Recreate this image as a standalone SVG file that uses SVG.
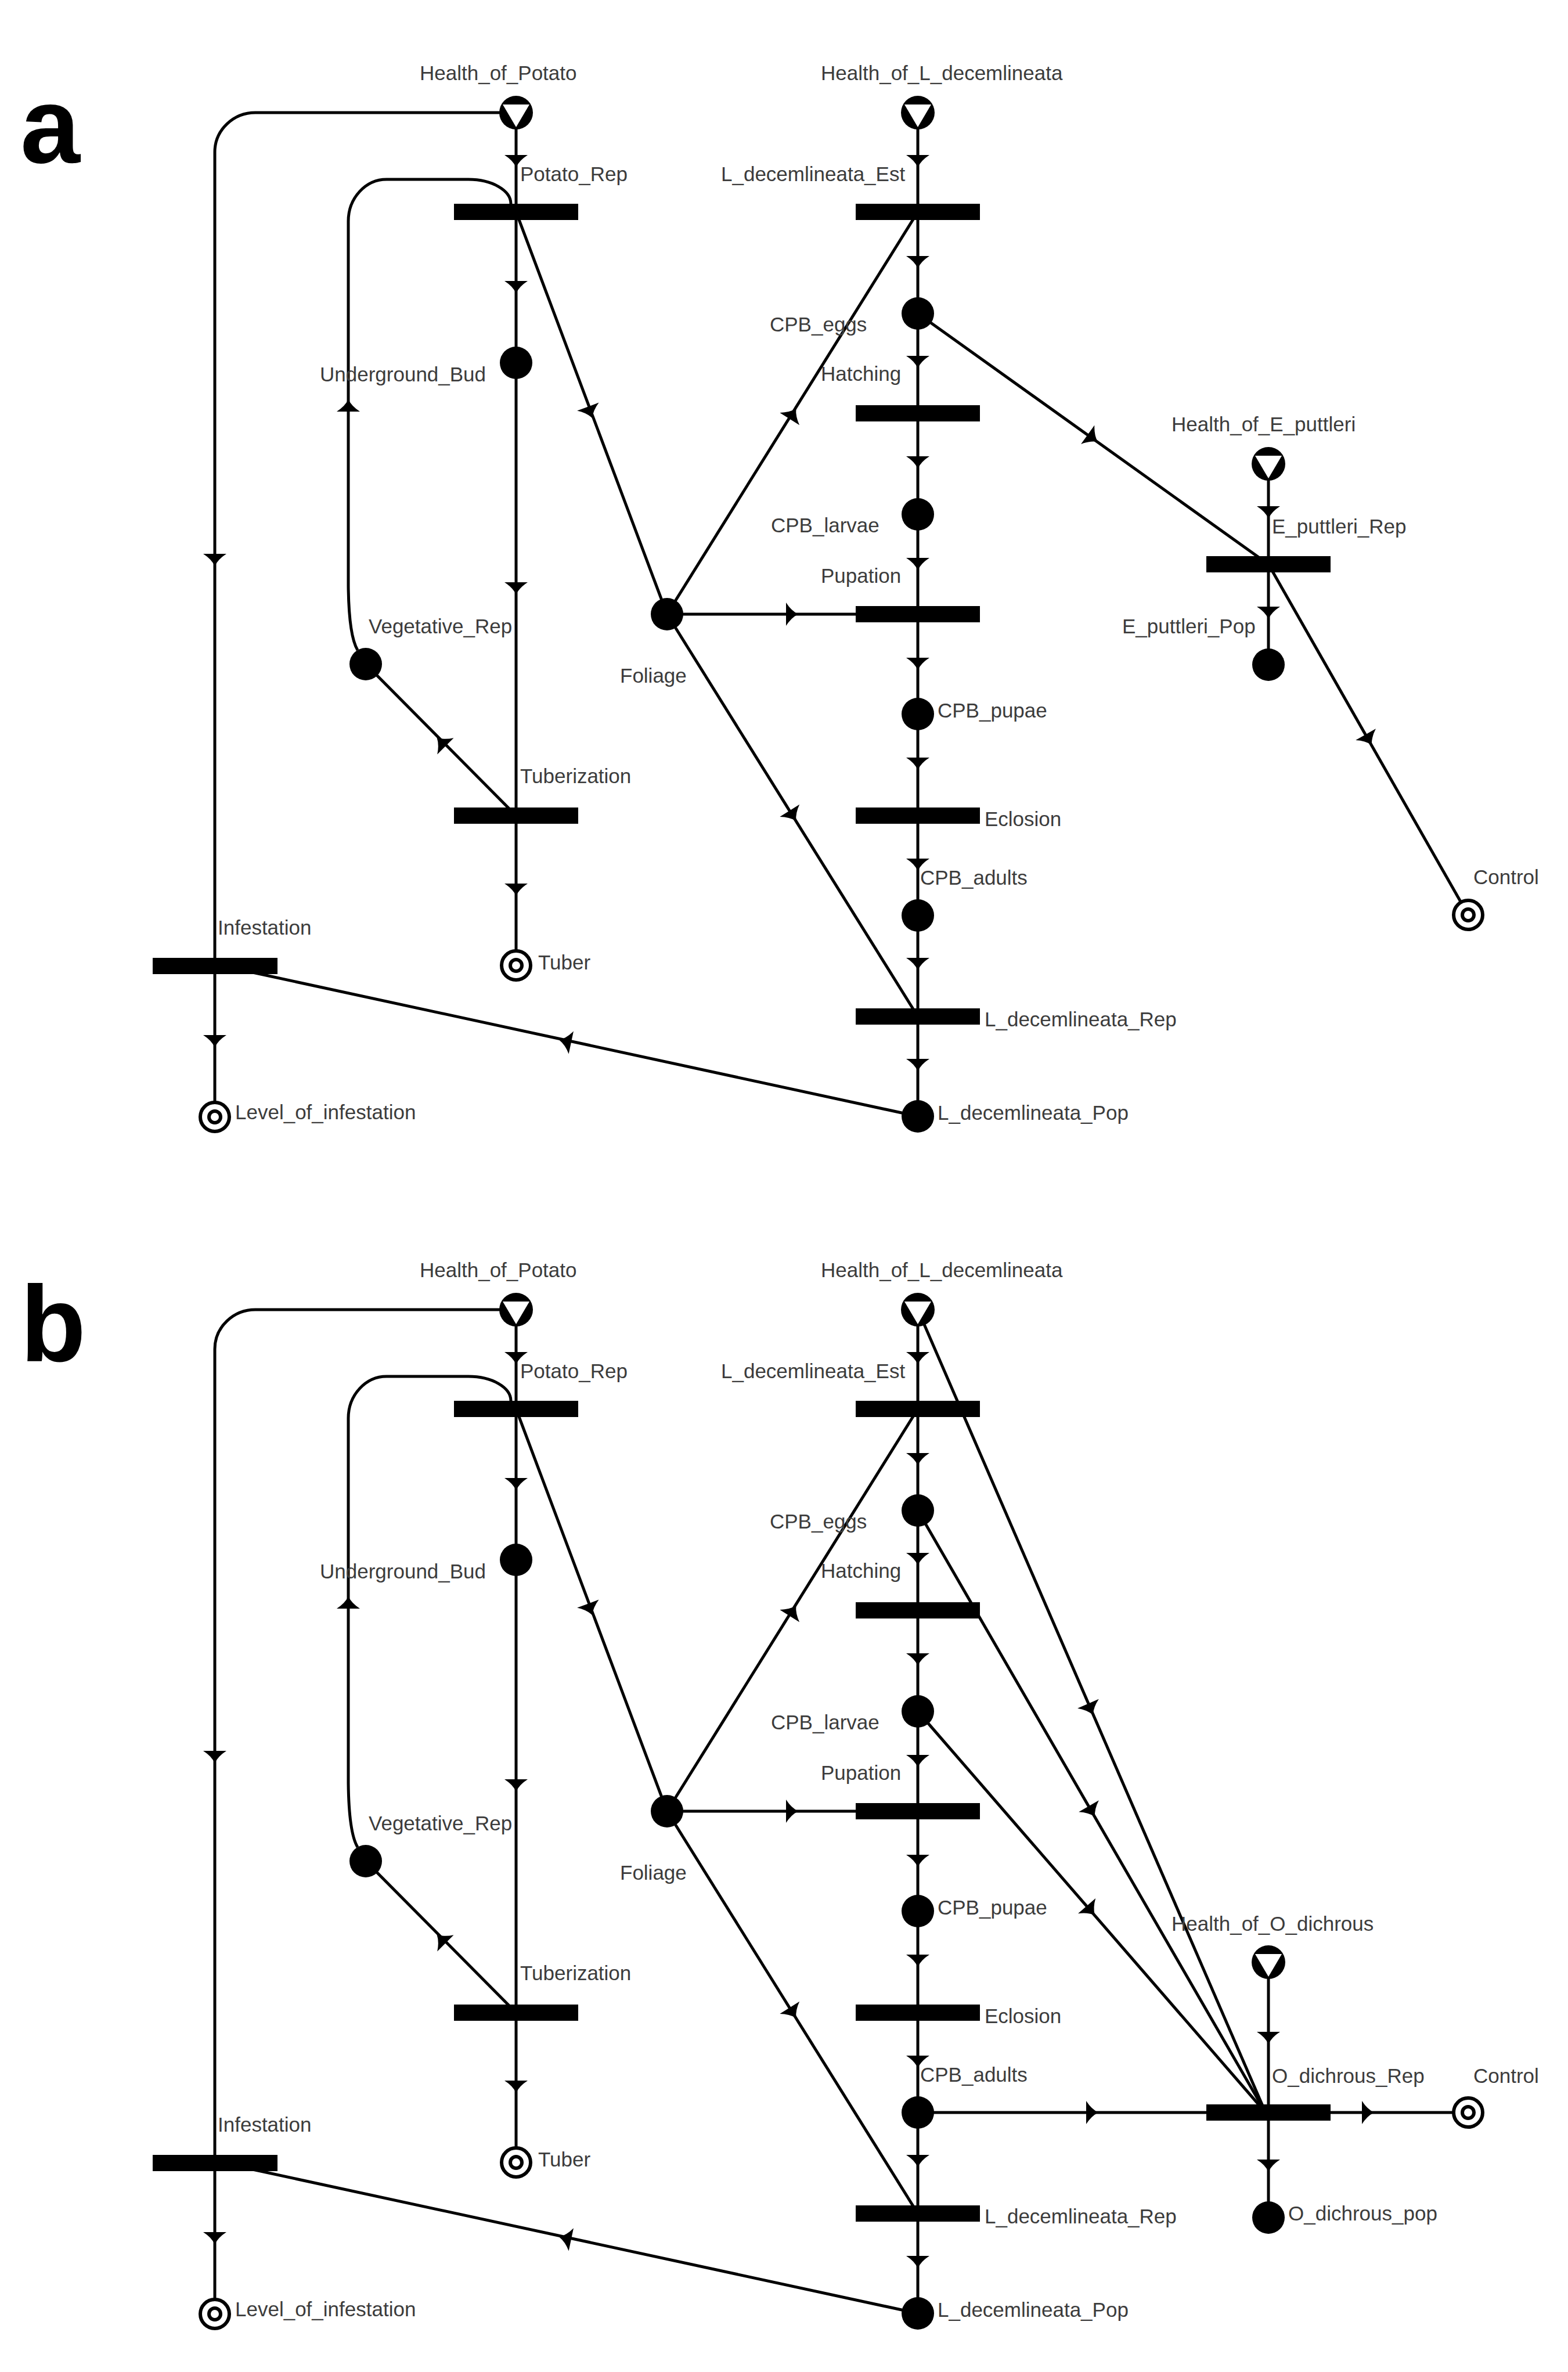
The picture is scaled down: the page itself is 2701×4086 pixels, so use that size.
<svg xmlns="http://www.w3.org/2000/svg" width="2701" height="4086" viewBox="0 0 2701 4086">
<style>
.ln{stroke:#000;stroke-width:5;fill:none}
.pl{fill:#000}
.tr{fill:#000}
.lb{font-family:"Liberation Sans",Arial,sans-serif;font-size:35px;fill:#3c3c3c}
.big{font-family:"Liberation Sans",Arial,sans-serif;font-size:185px;font-weight:bold;fill:#000}
</style>
<defs>
<path id="ah" d="M12,0 Q0,-6 -9,-20 L-9,20 Q0,6 12,0 Z" fill="#000"/>
<g id="src"><circle r="29" fill="#000"/><path d="M-23,-14 L23,-14 L0,25 Z" fill="#fff"/></g>
<g id="sink"><circle r="25" fill="#fff" stroke="#000" stroke-width="6"/><circle r="10" fill="#fff" stroke="#000" stroke-width="6"/></g>
</defs>
<rect width="2701" height="4086" fill="#fff"/>

<!-- ================= PANEL A ================= -->
<g id="panel-a">
<text class="big" x="35" y="280">a</text>
<g id="a-connectors">
<path class="ln" d="M889 194 V365"/>
<path class="ln" d="M889 194 H441 A70 68 0 0 0 370 262 V1664"/>
<path class="ln" d="M889 365 V625"/>
<path class="ln" d="M889 365 L1149 1058"/>
<path class="ln" d="M616 1120 Q601 1095 600 1010 V381 A66 72 0 0 1 666 309 H807 A73 42 0 0 1 880 351"/>
<path class="ln" d="M889 625 V1405"/>
<path class="ln" d="M889 1405 L630 1144"/>
<path class="ln" d="M889 1405 V1663"/>
<path class="ln" d="M1149 1058 L1581 365"/>
<path class="ln" d="M1149 1058 H1581"/>
<path class="ln" d="M1149 1058 L1581 1751"/>
<path class="ln" d="M1581 194 V1923"/>
<path class="ln" d="M1581 1923 L421 1672"/>
<path class="ln" d="M370 1664 V1924"/>
<path class="ln" d="M1581 540 L2185 972"/>
<path class="ln" d="M2185 799 V1145"/>
<path class="ln" d="M2185 972 L2529 1576"/>
<use href="#ah" transform="translate(889 276) rotate(90)"/>
<use href="#ah" transform="translate(370 963) rotate(90)"/>
<use href="#ah" transform="translate(889 493) rotate(90)"/>
<use href="#ah" transform="translate(1016 709) rotate(69.4)"/>
<use href="#ah" transform="translate(600 700) rotate(-90)"/>
<use href="#ah" transform="translate(889 1012) rotate(90)"/>
<use href="#ah" transform="translate(761 1279) rotate(-135)"/>
<use href="#ah" transform="translate(889 1531) rotate(90)"/>
<use href="#ah" transform="translate(1365 714) rotate(-57.7)"/>
<use href="#ah" transform="translate(1363 1058) rotate(0)"/>
<use href="#ah" transform="translate(1365 1404) rotate(58)"/>
<use href="#ah" transform="translate(1581 276) rotate(90)"/>
<use href="#ah" transform="translate(1581 450) rotate(90)"/>
<use href="#ah" transform="translate(1581 622) rotate(90)"/>
<use href="#ah" transform="translate(1581 795) rotate(90)"/>
<use href="#ah" transform="translate(1581 970) rotate(90)"/>
<use href="#ah" transform="translate(1581 1142) rotate(90)"/>
<use href="#ah" transform="translate(1581 1314) rotate(90)"/>
<use href="#ah" transform="translate(1581 1488) rotate(90)"/>
<use href="#ah" transform="translate(1581 1659) rotate(90)"/>
<use href="#ah" transform="translate(1581 1833) rotate(90)"/>
<use href="#ah" transform="translate(975 1794) rotate(192)"/>
<use href="#ah" transform="translate(370 1792) rotate(90)"/>
<use href="#ah" transform="translate(1881 754) rotate(35.6)"/>
<use href="#ah" transform="translate(2185 881) rotate(90)"/>
<use href="#ah" transform="translate(2185 1054) rotate(90)"/>
<use href="#ah" transform="translate(2357 1273) rotate(60.3)"/>
</g>
<g id="a-Health_of_Potato"><use href="#src" x="889" y="194"/><text class="lb" x="723" y="138">Health_of_Potato</text></g>
<g id="a-Health_of_L_decemlineata"><use href="#src" x="1581" y="194"/><text class="lb" x="1414" y="138">Health_of_L_decemlineata</text></g>
<g id="a-Potato_Rep"><rect class="tr" x="782" y="351" width="214" height="28"/><text class="lb" x="896" y="312">Potato_Rep</text></g>
<g id="a-L_decemlineata_Est"><rect class="tr" x="1474" y="351" width="214" height="28"/><text class="lb" x="1242" y="312">L_decemlineata_Est</text></g>
<g id="a-CPB_eggs"><circle class="pl" cx="1581" cy="540" r="28"/><text class="lb" x="1326" y="571">CPB_eggs</text></g>
<g id="a-Hatching"><rect class="tr" x="1474" y="698" width="214" height="28"/><text class="lb" x="1414" y="656">Hatching</text></g>
<g id="a-Underground_Bud"><circle class="pl" cx="889" cy="625" r="28"/><text class="lb" x="551" y="657">Underground_Bud</text></g>
<g id="a-Health_of_E_puttleri"><use href="#src" x="2185" y="799"/><text class="lb" x="2018" y="743">Health_of_E_puttleri</text></g>
<g id="a-E_puttleri_Rep"><rect class="tr" x="2078" y="958" width="214" height="28"/><text class="lb" x="2191" y="919">E_puttleri_Rep</text></g>
<g id="a-CPB_larvae"><circle class="pl" cx="1581" cy="886" r="28"/><text class="lb" x="1328" y="917">CPB_larvae</text></g>
<g id="a-Pupation"><rect class="tr" x="1474" y="1044" width="214" height="28"/><text class="lb" x="1414" y="1004">Pupation</text></g>
<g id="a-E_puttleri_Pop"><circle class="pl" cx="2185" cy="1145" r="28"/><text class="lb" x="1933" y="1091">E_puttleri_Pop</text></g>
<g id="a-Vegetative_Rep"><circle class="pl" cx="630" cy="1144" r="28"/><text class="lb" x="635" y="1091">Vegetative_Rep</text></g>
<g id="a-Foliage"><circle class="pl" cx="1149" cy="1058" r="28"/><text class="lb" x="1068" y="1176">Foliage</text></g>
<g id="a-CPB_pupae"><circle class="pl" cx="1581" cy="1230" r="28"/><text class="lb" x="1615" y="1236">CPB_pupae</text></g>
<g id="a-Tuberization"><rect class="tr" x="782" y="1391" width="214" height="28"/><text class="lb" x="896" y="1349">Tuberization</text></g>
<g id="a-Eclosion"><rect class="tr" x="1474" y="1391" width="214" height="28"/><text class="lb" x="1696" y="1423">Eclosion</text></g>
<g id="a-CPB_adults"><circle class="pl" cx="1581" cy="1577" r="28"/><text class="lb" x="1585" y="1524">CPB_adults</text></g>
<g id="a-Control"><use href="#sink" x="2529" y="1576"/><text class="lb" x="2538" y="1523">Control</text></g>
<g id="a-Infestation"><rect class="tr" x="263" y="1650" width="215" height="28"/><text class="lb" x="375" y="1610">Infestation</text></g>
<g id="a-Tuber"><use href="#sink" x="889" y="1663"/><text class="lb" x="927" y="1670">Tuber</text></g>
<g id="a-L_decemlineata_Rep"><rect class="tr" x="1474" y="1737" width="214" height="28"/><text class="lb" x="1696" y="1768">L_decemlineata_Rep</text></g>
<g id="a-L_decemlineata_Pop"><circle class="pl" cx="1581" cy="1923" r="28"/><text class="lb" x="1615" y="1929">L_decemlineata_Pop</text></g>
<g id="a-Level_of_infestation"><use href="#sink" x="370" y="1924"/><text class="lb" x="405" y="1928">Level_of_infestation</text></g>
</g>

<!-- ================= PANEL B ================= -->
<text class="big" x="35" y="2345">b</text>
<g id="panel-b" transform="translate(0 2062)">
<g id="b-connectors">
<path class="ln" d="M889 194 V365"/>
<path class="ln" d="M889 194 H441 A70 68 0 0 0 370 262 V1664"/>
<path class="ln" d="M889 365 V625"/>
<path class="ln" d="M889 365 L1149 1058"/>
<path class="ln" d="M616 1120 Q601 1095 600 1010 V381 A66 72 0 0 1 666 309 H807 A73 42 0 0 1 880 351"/>
<path class="ln" d="M889 625 V1405"/>
<path class="ln" d="M889 1405 L630 1144"/>
<path class="ln" d="M889 1405 V1663"/>
<path class="ln" d="M1149 1058 L1581 365"/>
<path class="ln" d="M1149 1058 H1581"/>
<path class="ln" d="M1149 1058 L1581 1751"/>
<path class="ln" d="M1581 194 V1923"/>
<path class="ln" d="M1581 1923 L421 1672"/>
<path class="ln" d="M370 1664 V1924"/>
<path class="ln" d="M1581 194 L2180 1577"/>
<path class="ln" d="M1581 540 L2180 1577"/>
<path class="ln" d="M1581 886 L2180 1577"/>
<path class="ln" d="M1581 1577 H2529"/>
<path class="ln" d="M2185 1318 V1758"/>
<use href="#ah" transform="translate(889 276) rotate(90)"/>
<use href="#ah" transform="translate(370 963) rotate(90)"/>
<use href="#ah" transform="translate(889 493) rotate(90)"/>
<use href="#ah" transform="translate(1016 709) rotate(69.4)"/>
<use href="#ah" transform="translate(600 700) rotate(-90)"/>
<use href="#ah" transform="translate(889 1012) rotate(90)"/>
<use href="#ah" transform="translate(761 1279) rotate(-135)"/>
<use href="#ah" transform="translate(889 1531) rotate(90)"/>
<use href="#ah" transform="translate(1365 714) rotate(-57.7)"/>
<use href="#ah" transform="translate(1363 1058) rotate(0)"/>
<use href="#ah" transform="translate(1365 1404) rotate(58)"/>
<use href="#ah" transform="translate(1581 276) rotate(90)"/>
<use href="#ah" transform="translate(1581 450) rotate(90)"/>
<use href="#ah" transform="translate(1581 622) rotate(90)"/>
<use href="#ah" transform="translate(1581 795) rotate(90)"/>
<use href="#ah" transform="translate(1581 970) rotate(90)"/>
<use href="#ah" transform="translate(1581 1142) rotate(90)"/>
<use href="#ah" transform="translate(1581 1314) rotate(90)"/>
<use href="#ah" transform="translate(1581 1488) rotate(90)"/>
<use href="#ah" transform="translate(1581 1659) rotate(90)"/>
<use href="#ah" transform="translate(1581 1833) rotate(90)"/>
<use href="#ah" transform="translate(975 1794) rotate(192)"/>
<use href="#ah" transform="translate(370 1792) rotate(90)"/>
<use href="#ah" transform="translate(1878 881) rotate(66.6)"/>
<use href="#ah" transform="translate(1880 1057) rotate(60)"/>
<use href="#ah" transform="translate(1878 1228) rotate(49.1)"/>
<use href="#ah" transform="translate(1880 1577) rotate(0)"/>
<use href="#ah" transform="translate(2185 1447) rotate(90)"/>
<use href="#ah" transform="translate(2185 1667) rotate(90)"/>
<use href="#ah" transform="translate(2355 1577) rotate(0)"/>
</g>
<g id="b-Health_of_Potato"><use href="#src" x="889" y="194"/><text class="lb" x="723" y="138">Health_of_Potato</text></g>
<g id="b-Health_of_L_decemlineata"><use href="#src" x="1581" y="194"/><text class="lb" x="1414" y="138">Health_of_L_decemlineata</text></g>
<g id="b-Potato_Rep"><rect class="tr" x="782" y="351" width="214" height="28"/><text class="lb" x="896" y="312">Potato_Rep</text></g>
<g id="b-L_decemlineata_Est"><rect class="tr" x="1474" y="351" width="214" height="28"/><text class="lb" x="1242" y="312">L_decemlineata_Est</text></g>
<g id="b-CPB_eggs"><circle class="pl" cx="1581" cy="540" r="28"/><text class="lb" x="1326" y="571">CPB_eggs</text></g>
<g id="b-Hatching"><rect class="tr" x="1474" y="698" width="214" height="28"/><text class="lb" x="1414" y="656">Hatching</text></g>
<g id="b-Underground_Bud"><circle class="pl" cx="889" cy="625" r="28"/><text class="lb" x="551" y="657">Underground_Bud</text></g>
<g id="b-CPB_larvae"><circle class="pl" cx="1581" cy="886" r="28"/><text class="lb" x="1328" y="917">CPB_larvae</text></g>
<g id="b-Pupation"><rect class="tr" x="1474" y="1044" width="214" height="28"/><text class="lb" x="1414" y="1004">Pupation</text></g>
<g id="b-Vegetative_Rep"><circle class="pl" cx="630" cy="1144" r="28"/><text class="lb" x="635" y="1091">Vegetative_Rep</text></g>
<g id="b-Foliage"><circle class="pl" cx="1149" cy="1058" r="28"/><text class="lb" x="1068" y="1176">Foliage</text></g>
<g id="b-CPB_pupae"><circle class="pl" cx="1581" cy="1230" r="28"/><text class="lb" x="1615" y="1236">CPB_pupae</text></g>
<g id="b-Health_of_O_dichrous"><use href="#src" x="2185" y="1318"/><text class="lb" x="2018" y="1264">Health_of_O_dichrous</text></g>
<g id="b-Tuberization"><rect class="tr" x="782" y="1391" width="214" height="28"/><text class="lb" x="896" y="1349">Tuberization</text></g>
<g id="b-Eclosion"><rect class="tr" x="1474" y="1391" width="214" height="28"/><text class="lb" x="1696" y="1423">Eclosion</text></g>
<g id="b-CPB_adults"><circle class="pl" cx="1581" cy="1577" r="28"/><text class="lb" x="1585" y="1524">CPB_adults</text></g>
<g id="b-O_dichrous_Rep"><rect class="tr" x="2078" y="1563" width="214" height="28"/><text class="lb" x="2191" y="1526">O_dichrous_Rep</text></g>
<g id="b-Control"><use href="#sink" x="2529" y="1577"/><text class="lb" x="2538" y="1526">Control</text></g>
<g id="b-Infestation"><rect class="tr" x="263" y="1650" width="215" height="28"/><text class="lb" x="375" y="1610">Infestation</text></g>
<g id="b-Tuber"><use href="#sink" x="889" y="1663"/><text class="lb" x="927" y="1670">Tuber</text></g>
<g id="b-L_decemlineata_Rep"><rect class="tr" x="1474" y="1737" width="214" height="28"/><text class="lb" x="1696" y="1768">L_decemlineata_Rep</text></g>
<g id="b-O_dichrous_pop"><circle class="pl" cx="2185" cy="1758" r="28"/><text class="lb" x="2219" y="1763">O_dichrous_pop</text></g>
<g id="b-L_decemlineata_Pop"><circle class="pl" cx="1581" cy="1923" r="28"/><text class="lb" x="1615" y="1929">L_decemlineata_Pop</text></g>
<g id="b-Level_of_infestation"><use href="#sink" x="370" y="1924"/><text class="lb" x="405" y="1928">Level_of_infestation</text></g>
</g>
</svg>
